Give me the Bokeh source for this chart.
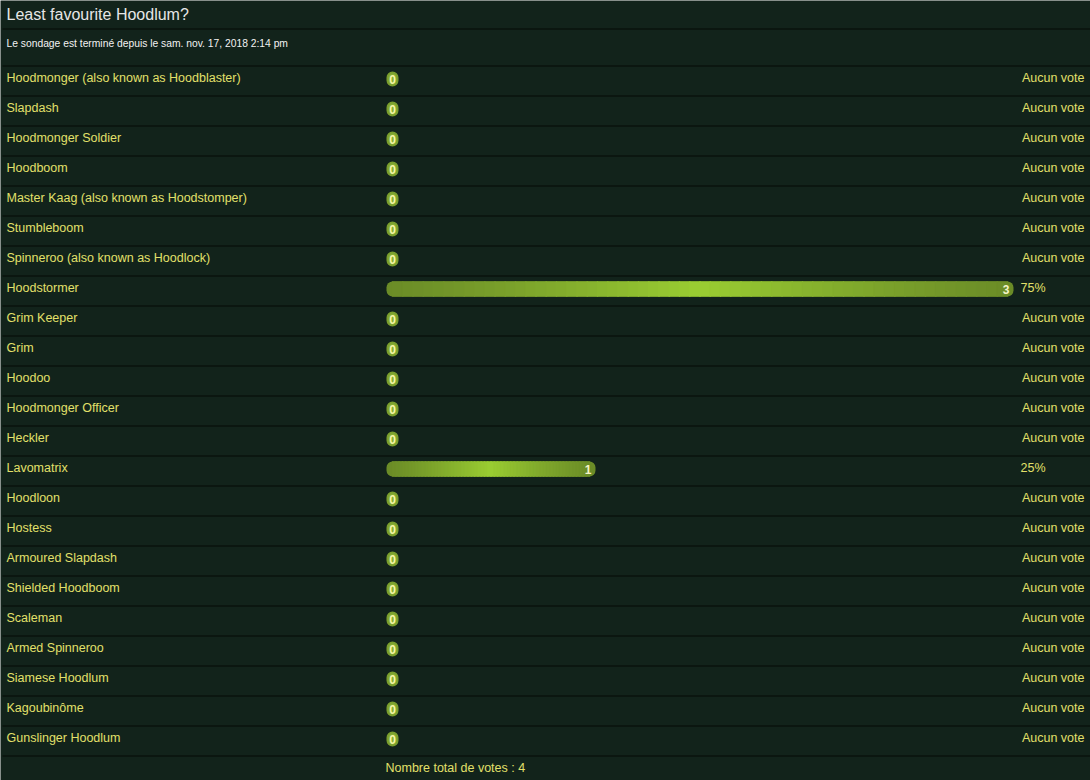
from bokeh.plotting import figure
from bokeh.models import Range1d, InlineStyleSheet
from bokeh.core.properties import value
from bokeh.embed import file_html
from bokeh.resources import INLINE

# ---------------- data ----------------
title = "Least favourite Hoodlum?"
subtitle = "Le sondage est terminé depuis le sam. nov. 17, 2018 2:14 pm"
options = [
    "Hoodmonger (also known as Hoodblaster)", "Slapdash", "Hoodmonger Soldier",
    "Hoodboom", "Master Kaag (also known as Hoodstomper)", "Stumbleboom",
    "Spinneroo (also known as Hoodlock)", "Hoodstormer", "Grim Keeper", "Grim",
    "Hoodoo", "Hoodmonger Officer", "Heckler", "Lavomatrix", "Hoodloon", "Hostess",
    "Armoured Slapdash", "Shielded Hoodboom", "Scaleman", "Armed Spinneroo",
    "Siamese Hoodlum", "Kagoubinôme", "Gunslinger Hoodlum",
]
votes = [0, 0, 0, 0, 0, 0, 0, 3, 0, 0, 0, 0, 0, 1, 0, 0, 0, 0, 0, 0, 0, 0, 0]
no_vote_label = "Aucun vote"
total_label = "Nombre total de votes : "

# ---------------- style / layout ----------------
W, H = 1090, 780
BG = "#12231b"
SEP = "#050b07"
YELLOW = "#e2e06a"
FONT = value("Liberation Sans")
FS = "12.5px"
ROW_TOP0 = 65
ROW_H = 30
BAR_X0 = 386
BAR_FULL = 836
BAR_H = 15
BADGE_W = 12

p = figure(width=W, height=H, x_range=Range1d(0, W), y_range=Range1d(H, 0),
           output_backend="svg", toolbar_location=None, min_border=0,
           background_fill_color=BG, border_fill_color=BG, outline_line_color=None)
p.outline_line_alpha = 0
p.axis.visible = False
p.grid.visible = False
p.stylesheets = [InlineStyleSheet(css=":host{border:none !important;outline:none !important;}")]

n = len(options)
total = sum(votes)
tops = [ROW_TOP0 + ROW_H * i for i in range(n)]

# separators
sep_y = [28.5] + [t + 0.5 for t in tops] + [tops[-1] + ROW_H + 0.5]
p.segment(x0=[2] * len(sep_y), x1=[W] * len(sep_y), y0=sep_y, y1=sep_y,
          line_color=SEP, line_width=1.2)

# title / subtitle
p.text(x=[6], y=[14], text=[title], text_font=FONT, text_font_size="16px",
       text_color="#e6e6e6", text_baseline="middle")
p.text(x=[6], y=[43], text=[subtitle], text_font=FONT, text_font_size="10.3px",
       text_color="#f2f2f2", text_baseline="middle")

# labels
p.text(x=[6] * n, y=[t + 12 for t in tops], text=options, text_font=FONT,
       text_font_size=FS, text_color=YELLOW, text_baseline="middle")

# bars
def mix(c1, c2, t):
    a = [int(c1[i:i + 2], 16) for i in (1, 3, 5)]
    b = [int(c2[i:i + 2], 16) for i in (1, 3, 5)]
    return "#%02x%02x%02x" % tuple(round(a[k] + (b[k] - a[k]) * t) for k in range(3))

EDGE = "#6b8c27"
MID = "#9acd32"
cy = [t + 13.5 for t in tops]
bar_right = [BAR_X0 + (v / total) * BAR_FULL if v > 0 else BAR_X0 + BADGE_W for v in votes]

p.hbar(y=cy, left=[BAR_X0] * n, right=bar_right, height=BAR_H,
       fill_color=[EDGE if v > 0 else "#7a9e2e" for v in votes],
       line_color=None, border_radius=6)

# gradient slices for non-zero bars
sl_l, sl_r, sl_y, sl_c = [], [], [], []
N = 60
for i, v in enumerate(votes):
    if v <= 0:
        continue
    L, R = BAR_X0 + 6, bar_right[i] - 6
    w = (R - L) / N
    mid = (BAR_X0 + bar_right[i]) / 2
    half = (bar_right[i] - BAR_X0) / 2
    for k in range(N):
        x0 = L + k * w
        xc = x0 + w / 2
        t = 1 - abs(xc - mid) / half
        sl_l.append(x0 - 0.5)
        sl_r.append(x0 + w + 0.5)
        sl_y.append(cy[i])
        sl_c.append(mix(EDGE, MID, t ** 1.2))
p.hbar(y=sl_y, left=sl_l, right=sl_r, height=BAR_H, fill_color=sl_c,
       line_color=sl_c, line_width=0.5)

# zero badge inner shading
z_idx = [i for i, v in enumerate(votes) if v == 0]
p.hbar(y=[cy[i] for i in z_idx], left=[BAR_X0 + 2] * len(z_idx),
       right=[BAR_X0 + BADGE_W - 2] * len(z_idx), height=BAR_H - 4,
       fill_color="#86ad33", line_color=None, border_radius=4)

# value text in bars
nz = [i for i, v in enumerate(votes) if v > 0]
p.text(x=[bar_right[i] - 4 for i in nz], y=[cy[i] + 0.5 for i in nz],
       text=[str(votes[i]) for i in nz], text_font=FONT, text_font_size="12px",
       text_font_style="bold", text_color="#f4f4c8", text_align="right",
       text_baseline="middle")
p.text(x=[BAR_X0 + BADGE_W / 2] * len(z_idx), y=[cy[i] + 0.5 for i in z_idx],
       text=["0"] * len(z_idx), text_font=FONT, text_font_size="12px",
       text_font_style="bold", text_color="#f6f6a8", text_align="center",
       text_baseline="middle")

# percentage / no vote column
p.text(x=[1020] * len(nz), y=[tops[i] + 12 for i in nz],
       text=["%d%%" % round(100 * votes[i] / total) for i in nz], text_font=FONT,
       text_font_size=FS, text_color=YELLOW, text_baseline="middle")
p.text(x=[1084] * len(z_idx), y=[tops[i] + 12 for i in z_idx],
       text=[no_vote_label] * len(z_idx), text_font=FONT, text_font_size=FS,
       text_color=YELLOW, text_align="right", text_baseline="middle")

# footer
p.text(x=[385], y=[tops[-1] + ROW_H + 12], text=[total_label + str(total)],
       text_font=FONT, text_font_size=FS, text_color=YELLOW, text_baseline="middle")

open("out.html", "w").write(file_html(p, INLINE))
